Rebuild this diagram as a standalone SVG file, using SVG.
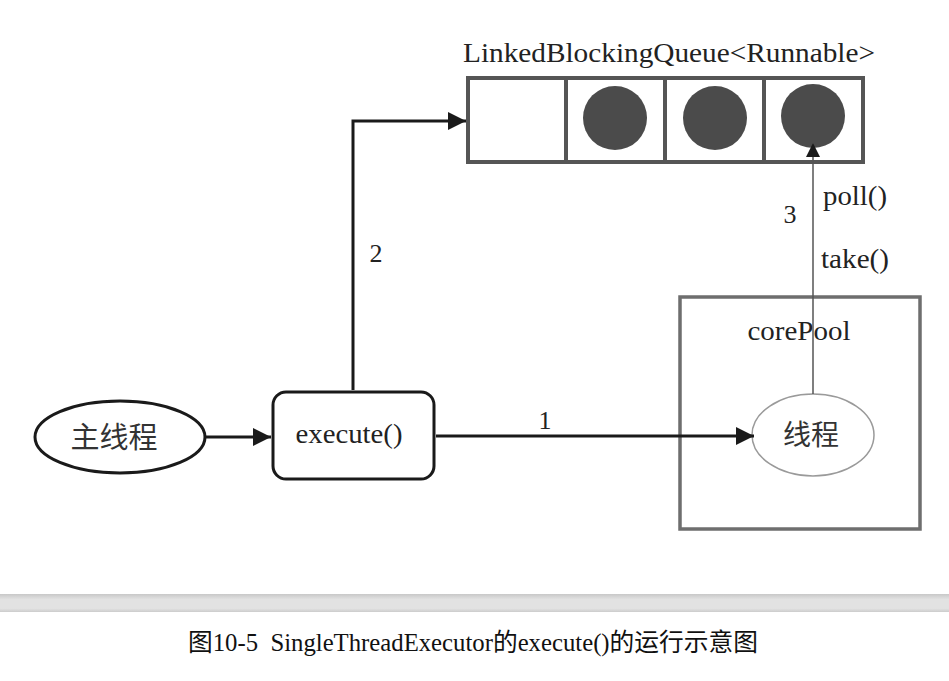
<svg xmlns="http://www.w3.org/2000/svg" width="949" height="681" viewBox="0 0 949 681">
<style>
.lbl{font-family:"Liberation Serif","Noto Sans CJK SC",serif;fill:#222;}
.cjk{font-family:"Noto Sans CJK SC","Liberation Serif",sans-serif;fill:#333;}
.edge{stroke:#1a1a1a;stroke-width:3;fill:none;}
</style>
<defs>
<marker id="ah" viewBox="0 0 10 10" refX="10" refY="5" markerWidth="6" markerHeight="6" markerUnits="strokeWidth" orient="auto">
<path d="M0,0 L10,5 L0,10 z" fill="#1a1a1a"/>
</marker>
<marker id="ahThin" viewBox="0 0 10 10" refX="10" refY="5" markerWidth="14" markerHeight="14" markerUnits="userSpaceOnUse" orient="auto">
<path d="M0,0 L10,5 L0,10 z" fill="#1a1a1a"/>
</marker>
<linearGradient id="band" x1="0" y1="0" x2="0" y2="1">
<stop offset="0" stop-color="#c8c8c8"/>
<stop offset="0.3" stop-color="#e2e2e2"/>
<stop offset="0.8" stop-color="#e2e2e2"/>
<stop offset="1" stop-color="#cccccc"/>
</linearGradient>
</defs>
<rect width="949" height="681" fill="#fff"/>

<g id="queue">
<text class="lbl" x="669" y="62" font-size="28" text-anchor="middle" textLength="412" lengthAdjust="spacingAndGlyphs">LinkedBlockingQueue&lt;Runnable&gt;</text>
<rect x="468" y="78" width="395" height="84" fill="#fff" stroke="#555" stroke-width="4"/>
<line x1="566" y1="78" x2="566" y2="162" stroke="#555" stroke-width="4"/>
<line x1="665" y1="78" x2="665" y2="162" stroke="#555" stroke-width="4"/>
<line x1="764" y1="78" x2="764" y2="162" stroke="#555" stroke-width="4"/>
<circle cx="615" cy="118" r="32" fill="#4b4b4b"/>
<circle cx="715" cy="118" r="32" fill="#4b4b4b"/>
<circle cx="813" cy="116" r="32" fill="#4b4b4b"/>
</g>

<g id="corePool">
<rect x="680" y="297" width="240" height="232" fill="none" stroke="#6e6e6e" stroke-width="3.5"/>
<text class="lbl" x="799" y="340" font-size="27" text-anchor="middle" textLength="103" lengthAdjust="spacingAndGlyphs">corePool</text>
</g>

<g id="mainThread">
<ellipse cx="120" cy="437" rx="85" ry="36" fill="#fff" stroke="#1a1a1a" stroke-width="3"/>
<text class="cjk" x="114" y="448" font-size="29" text-anchor="middle">主线程</text>
</g>

<g id="execute">
<rect x="273" y="392" width="161" height="87" rx="13" fill="#fff" stroke="#1a1a1a" stroke-width="3"/>
<text class="lbl" x="349" y="443" font-size="28" text-anchor="middle" textLength="107" lengthAdjust="spacingAndGlyphs">execute()</text>
</g>

<g id="thread">
<ellipse cx="813" cy="435" rx="61" ry="41" fill="#fff" stroke="#9a9a9a" stroke-width="1.5"/>
<text class="cjk" x="811" y="445" font-size="28" text-anchor="middle">线程</text>
</g>

<g id="connectors">
<line class="edge" x1="206" y1="437" x2="271" y2="437" marker-end="url(#ah)"/>
<line class="edge" x1="436" y1="436" x2="754" y2="436" marker-end="url(#ah)"/>
<text class="lbl" x="545" y="429" font-size="26" text-anchor="middle">1</text>
<polyline class="edge" points="353,390 353,121 466,121" marker-end="url(#ah)"/>
<text class="lbl" x="376" y="262" font-size="26" text-anchor="middle">2</text>
<line x1="813" y1="394" x2="813" y2="143" stroke="#555" stroke-width="1.5" marker-end="url(#ahThin)"/>
<text class="lbl" x="790" y="223" font-size="26" text-anchor="middle">3</text>
<text class="lbl" x="823" y="205" font-size="27" textLength="64" lengthAdjust="spacingAndGlyphs">poll()</text>
<text class="lbl" x="821" y="268" font-size="27" textLength="68" lengthAdjust="spacingAndGlyphs">take()</text>
</g>

<rect x="0" y="594" width="949" height="18" fill="url(#band)"/>
<text x="473" y="651" font-size="25" text-anchor="middle" textLength="570" lengthAdjust="spacingAndGlyphs" xml:space="preserve" font-family="'Liberation Serif', 'Noto Sans CJK SC', serif" fill="#111">图10-5  SingleThreadExecutor的execute()的运行示意图</text>
</svg>
